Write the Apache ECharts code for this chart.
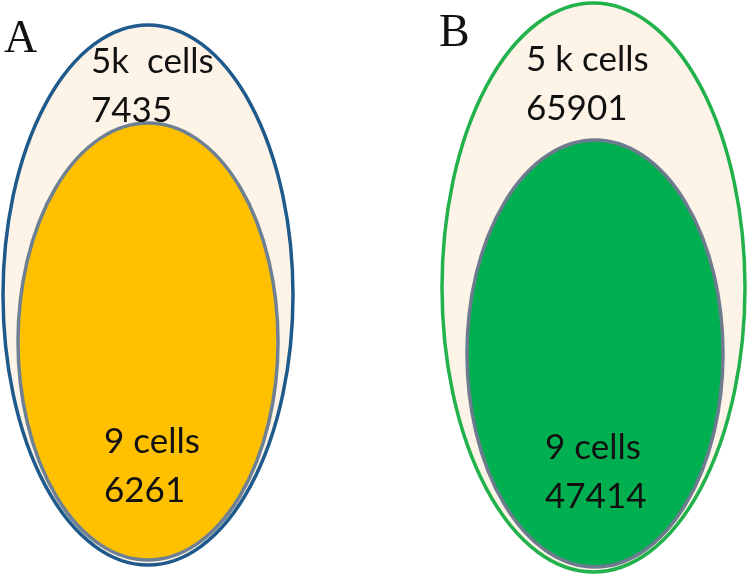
<!DOCTYPE html>
<html><head><meta charset="utf-8">
<script src="https://cdn.jsdelivr.net/npm/echarts@6/dist/echarts.min.js"></script>
<style>html,body{margin:0;padding:0;background:#fff}#c{width:750px;height:575px}</style>
</head><body><div id="c"></div>
<script>
// ---- data ----
const panels = ['A', 'B'];
const outerLabels = ['5k  cells', '5 k cells'];
const outerCounts = [7435, 65901];
const innerLabels = ['9 cells', '9 cells'];
const innerCounts = [6261, 47414];

// ---- layout (data units of a 750x575 hidden plane) ----
const outerShape = [[148, 295, 145, 270], [593.5, 287.5, 151.5, 284.5]]; // cx, cy, rx, ry
const innerShape = [[148, 341.5, 130, 218.5], [595, 353.5, 128, 213.5]];
const panelPos = [[4, 17], [439, 11]];
const outerTextPos = [[91, 44], [526, 42]];
const innerTextPos = [[104, 424], [545, 430]];
const lineGap = 49;

const styles = {
  outerFill: ['#fdf3e6', '#fdf3e6'],
  outerStroke: ['#1f5a8c', '#22b24c'],
  innerFill: ['#ffc000', '#00b050'],
  innerStroke: ['#6e8094', '#6c7b8e']
};

const chart = echarts.init(document.getElementById('c'), null, {renderer: 'canvas'});

function ellipsePath(cx, cy, rx, ry) {
  return 'M' + (cx - rx) + ' ' + cy +
    ' A' + rx + ' ' + ry + ' 0 1 0 ' + (cx + rx) + ' ' + cy +
    ' A' + rx + ' ' + ry + ' 0 1 0 ' + (cx - rx) + ' ' + cy + ' Z';
}

const txtFont = 'Lato, "Noto Sans", sans-serif';

chart.setOption({
  animation: false,
  grid: {left: 0, right: 0, top: 0, bottom: 0},
  xAxis: {type: 'value', min: 0, max: 750, show: false},
  yAxis: {type: 'value', min: 0, max: 575, inverse: true, show: false},
  series: [{
    type: 'custom',
    coordinateSystem: 'cartesian2d',
    data: panels.map((p, i) => [i]),
    renderItem: function (params, api) {
      const i = api.value(0);
      const o = outerShape[i], n = innerShape[i];
      const oc = api.coord([o[0], o[1]]), os = api.size([o[2], o[3]]);
      const nc = api.coord([n[0], n[1]]), ns = api.size([n[2], n[3]]);
      const pp = api.coord(panelPos[i]);
      const ot = api.coord(outerTextPos[i]);
      const it = api.coord(innerTextPos[i]);
      const gap = api.size([0, lineGap])[1];
      const txt = (x, y, s) => ({
        type: 'text',
        style: {x: x, y: y, text: s, fill: '#111', font: '35px ' + txtFont, verticalAlign: 'top', align: 'left'}
      });
      return {
        type: 'group',
        children: [
          {type: 'path', shape: {pathData: ellipsePath(oc[0], oc[1], os[0], os[1])},
            style: {fill: styles.outerFill[i], stroke: styles.outerStroke[i], lineWidth: 3.5}},
          {type: 'path', shape: {pathData: ellipsePath(nc[0], nc[1], ns[0], ns[1])},
            style: {fill: styles.innerFill[i], stroke: styles.innerStroke[i], lineWidth: 3.5}},
          {type: 'text', style: {x: pp[0], y: pp[1], text: panels[i], fill: '#111',
            font: '46px "Liberation Serif", "DejaVu Serif", serif', verticalAlign: 'top', align: 'left'}},
          txt(ot[0], ot[1], outerLabels[i]),
          txt(ot[0], ot[1] + gap, String(outerCounts[i])),
          txt(it[0], it[1], innerLabels[i]),
          txt(it[0], it[1] + gap, String(innerCounts[i]))
        ]
      };
    }
  }]
});
</script></body></html>
